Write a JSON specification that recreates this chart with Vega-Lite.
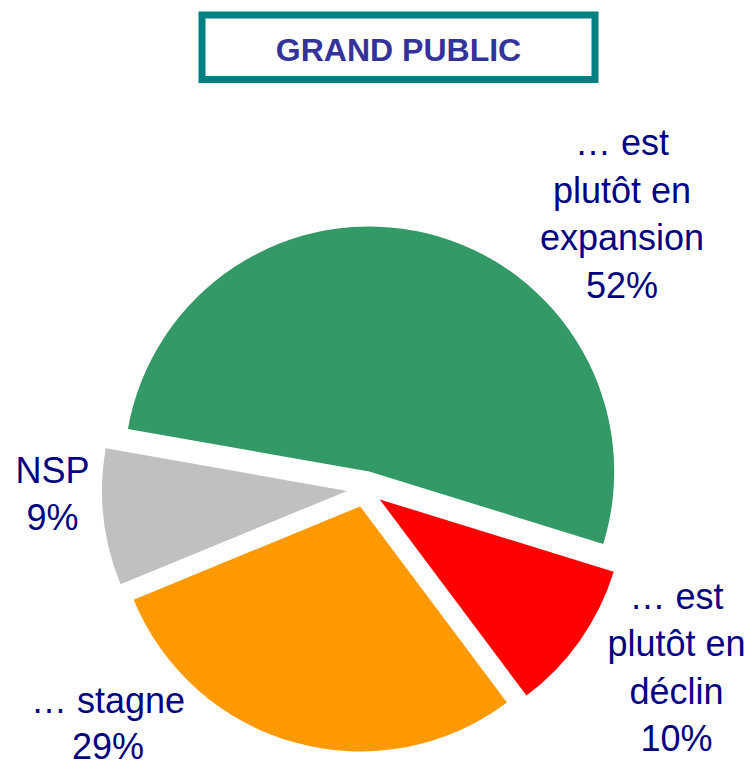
{
  "$schema": "https://vega.github.io/schema/vega-lite/v6.json",
  "padding": {"left": 0, "top": 11, "right": 0, "bottom": 0},
  "background": "white",
  "config": {"view": {"stroke": null}, "font": "Liberation Sans"},
  "spacing": 196,
  "bounds": "flush",
  "vconcat": [
    {
      "hconcat": [
        {
          "width": 201.5,
          "height": 64.5,
          "data": {"values": []},
          "mark": "point",
          "encoding": {}
        },
        {
          "width": 393,
          "height": 64.5,
          "view": {"stroke": "#008080", "strokeWidth": 7, "fill": "white"},
          "data": {"values": [{"titre": "GRAND PUBLIC"}]},
          "mark": {"type": "text", "align": "center", "baseline": "middle", "fontSize": 32, "fontWeight": "bold", "color": "#333399", "font": "Liberation Sans", "dy": 4},
          "encoding": {"text": {"field": "titre"}}
        }
      ],
      "spacing": 0,
      "bounds": "flush"
    },
    {
      "width": 730,
      "height": 556,
      "data": {
        "values": [
          {"categorie": "expansion", "valeur": 52, "libelle": ["… est", "plutôt en", "expansion", "52%"]},
          {"categorie": "déclin", "valeur": 10, "libelle": ["… est", "plutôt en", "déclin", "10%"]},
          {"categorie": "stagne", "valeur": 29, "libelle": ["… stagne", "29%"]},
          {"categorie": "NSP", "valeur": 9, "libelle": ["NSP", "9%"]}
        ]
      },
      "transform": [{"stack": "valeur", "groupby": [], "as": ["v0", "v1"]}],
      "layer": [
        {
          "transform": [{"filter": "datum.categorie === 'expansion'"}],
          "mark": {"type": "arc", "radius": 245, "xOffset": 4.2, "yOffset": -17.5},
          "encoding": {
            "theta": {"field": "v0", "type": "quantitative", "stack": null, "scale": {"domain": [0, 100], "range": [-1.39626, 4.88692]}},
            "theta2": {"field": "v1"},
            "color": {"field": "categorie", "type": "nominal", "scale": {"domain": ["expansion", "déclin", "stagne", "NSP"], "range": ["#339966", "#FF0000", "#FF9900", "#C0C0C0"]}, "legend": null}
          }
        },
        {
          "transform": [{"filter": "datum.categorie === 'déclin'"}],
          "mark": {"type": "arc", "radius": 245, "xOffset": 14.7, "yOffset": 10.4},
          "encoding": {
            "theta": {"field": "v0", "type": "quantitative", "stack": null},
            "theta2": {"field": "v1"},
            "color": {"field": "categorie", "type": "nominal", "legend": null}
          }
        },
        {
          "transform": [{"filter": "datum.categorie === 'stagne'"}],
          "mark": {"type": "arc", "radius": 245, "xOffset": -4.8, "yOffset": 17.4},
          "encoding": {
            "theta": {"field": "v0", "type": "quantitative", "stack": null},
            "theta2": {"field": "v1"},
            "color": {"field": "categorie", "type": "nominal", "legend": null}
          }
        },
        {
          "transform": [{"filter": "datum.categorie === 'NSP'"}],
          "mark": {"type": "arc", "radius": 245, "xOffset": -17.9, "yOffset": 1.9},
          "encoding": {
            "theta": {"field": "v0", "type": "quantitative", "stack": null},
            "theta2": {"field": "v1"},
            "color": {"field": "categorie", "type": "nominal", "legend": null}
          }
        },
        {
          "transform": [{"filter": "datum.categorie === 'expansion'"}],
          "mark": {"type": "text", "radius": 421.4, "thetaOffset": 2.0523, "align": "center", "baseline": "alphabetic", "fontSize": 36, "lineHeight": 47.5, "color": "#000080", "font": "Liberation Sans"},
          "encoding": {"theta": {"field": "v0", "type": "quantitative", "stack": null}, "text": {"field": "libelle"}}
        },
        {
          "transform": [{"filter": "datum.categorie === 'déclin'"}],
          "mark": {"type": "text", "radius": 333.8, "thetaOffset": 0.0675, "align": "center", "baseline": "alphabetic", "fontSize": 36, "lineHeight": 47.5, "color": "#000080", "font": "Liberation Sans"},
          "encoding": {"theta": {"field": "v0", "type": "quantitative", "stack": null}, "text": {"field": "libelle"}}
        },
        {
          "transform": [{"filter": "datum.categorie === 'stagne'"}],
          "mark": {"type": "text", "radius": 340.7, "thetaOffset": 1.4968, "align": "center", "baseline": "alphabetic", "fontSize": 36, "lineHeight": 46.5, "color": "#000080", "font": "Liberation Sans"},
          "encoding": {"theta": {"field": "v0", "type": "quantitative", "stack": null}, "text": {"field": "libelle"}}
        },
        {
          "transform": [{"filter": "datum.categorie === 'NSP'"}],
          "mark": {"type": "text", "radius": 312.6, "thetaOffset": 0.4112, "align": "center", "baseline": "alphabetic", "fontSize": 36, "lineHeight": 47.5, "color": "#000080", "font": "Liberation Sans"},
          "encoding": {"theta": {"field": "v0", "type": "quantitative", "stack": null}, "text": {"field": "libelle"}}
        }
      ]
    }
  ]
}
